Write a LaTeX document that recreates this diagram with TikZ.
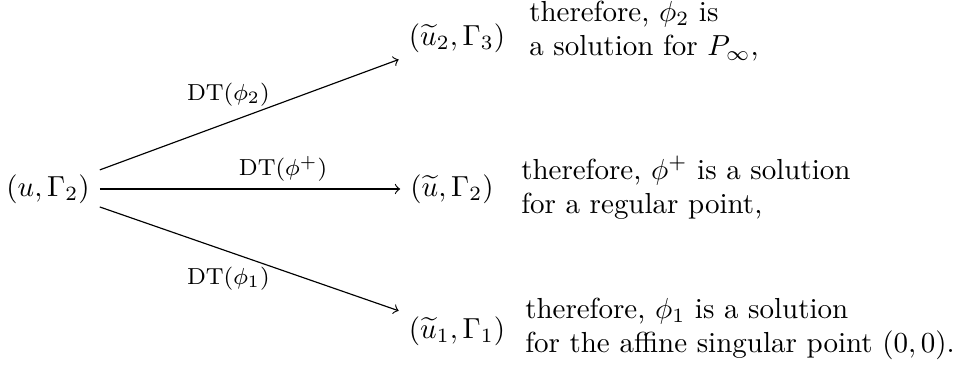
\documentclass[tikz,border=0pt]{standalone}
\usetikzlibrary{positioning}
\tikzset{
  lbl/.style={font=\footnotesize, inner sep=0pt},
  note/.style={align=left, anchor=west}
}
\begin{document}
\begin{tikzpicture}[x=0.345pt,y=-0.345pt]
\useasboundingbox (0,0) rectangle (965,377);
\node (u) at (48,189) {$(u,\Gamma_2)$};
\node (t) at (457,38) {$(\widetilde{u}_2,\Gamma_3)$};
\node (m) at (452,189) {$(\widetilde{u},\Gamma_2)$};
\node (b) at (457,331) {$(\widetilde{u}_1,\Gamma_1)$};
\draw[->] (u) -- node[lbl, pos=0.57, above left] {$\mathrm{DT}(\phi_2)$} (t);
\draw[->] (u) -- node[lbl, pos=0.61, above=2.5pt] {$\mathrm{DT}(\phi^+)$} (m);
\draw[->] (u) -- node[lbl, pos=0.57, below left] {$\mathrm{DT}(\phi_1)$} (b);
\node[note] (tn) at (519,31) {therefore, $\phi_2$ is\\ a solution for $P_\infty$,};
\node[note] (mn) at (511,188) {therefore, $\phi^+$ is a solution\\ for a regular point,};
\node[note] (bn) at (515,329) {therefore, $\phi_1$ is a solution\\ for the affine singular point $(0,0)$.};
\end{tikzpicture}
\end{document}
